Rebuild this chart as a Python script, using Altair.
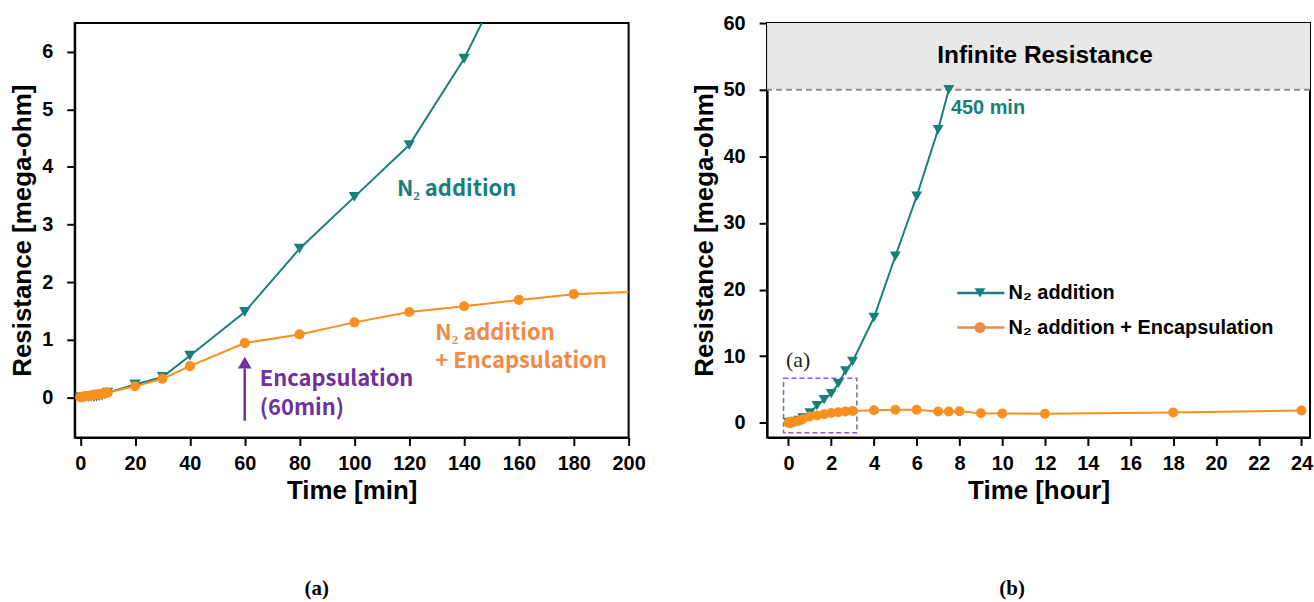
import altair as alt
import pandas as pd

# ---- measured resistance (mega-ohm) vs elapsed time (minutes) ----
minutes_n2 = [0, 1, 2, 3, 4, 5, 6, 7, 8, 9, 10, 20, 30, 40, 60, 80, 100, 120,
              140, 160, 180, 240, 300, 360, 420, 450]
res_n2 = [0.00, -0.01, 0.00, 0.00, 0.01, 0.00, 0.01, 0.02, 0.03, 0.05, 0.08,
          0.22, 0.35, 0.72, 1.48, 2.58, 3.48, 4.38, 5.88, 7.80, 9.20, 15.8,
          25.0, 34.0, 44.0, 50.0]

minutes_enc = [0, 1, 2, 3, 4, 5, 6, 7, 8, 9, 10, 20, 30, 40, 60, 80, 100, 120,
               140, 160, 180, 240, 300, 360, 420, 450, 480, 540, 600, 720,
               1080, 1440]
res_enc = [0.00, 0.01, 0.02, 0.02, 0.03, 0.04, 0.05, 0.05, 0.06, 0.07, 0.08,
           0.19, 0.32, 0.54, 0.94, 1.09, 1.30, 1.48, 1.58, 1.69, 1.79, 1.90,
           1.95, 1.95, 1.70, 1.70, 1.75, 1.45, 1.40, 1.35, 1.55, 1.85]

series = ["N₂ addition", "N₂ addition + Encapsulation"]
open_circuit_limit = 50      # resistance beyond which the meter reads "infinite"
meter_max = 60
encapsulation_time = 60      # minutes

TEAL = "#17807b"
ORANGE = "#f7901e"
ORANGE_TEXT = "#f08a48"
PURPLE = "#7030a0"
BOX = "#8a5cc8"

LABEL_FONT = "Liberation Sans"
NOTE_FONT = "Noto Sans CJK KR"

n2 = pd.DataFrame({"minutes": minutes_n2, "res": res_n2, "series": series[0]})
enc = pd.DataFrame({"minutes": minutes_enc, "res": res_enc, "series": series[1]})

LW, RW, H = 556, 545, 416

# ======================= (a) first 200 minutes =======================
XA = alt.Scale(domain=[-2, 200], nice=False, zero=False)
YA = alt.Scale(domain=[-0.7, 6.5], nice=False, zero=False)
xa = alt.X("minutes:Q", scale=XA,
           axis=alt.Axis(values=list(range(0, 201, 20)), format="d", title="Time [min]"))
ya = alt.Y("res:Q", scale=YA,
           axis=alt.Axis(values=list(range(0, 7)), format="d",
                         title="Resistance [mega-ohm]"))

a_n2_line = alt.Chart(n2).mark_line(color=TEAL, strokeWidth=2, clip=True).encode(x=xa, y=ya)
a_n2_pts = alt.Chart(n2).mark_point(shape="triangle-down", filled=True, opacity=1,
                                    size=130, color=TEAL, clip=True).encode(x=xa, y=ya)
a_enc_line = alt.Chart(enc).mark_line(color=ORANGE, strokeWidth=2, clip=True).encode(x=xa, y=ya)
a_enc_pts = alt.Chart(enc).mark_circle(size=105, color=ORANGE, opacity=1,
                                       clip=True).encode(x=xa, y=ya)

# arrow marking the moment of encapsulation
arrow = pd.DataFrame({"minutes": [encapsulation_time], "y0": [-0.41], "y1": [0.50],
                      "head": [0.60]})
a_shaft = alt.Chart(arrow).mark_rule(color=PURPLE, strokeWidth=2.5).encode(
    x=alt.X("minutes:Q", scale=XA), y=alt.Y("y0:Q", scale=YA), y2="y1:Q")
a_head = alt.Chart(arrow).mark_point(shape="triangle-up", filled=True, opacity=1,
                                     size=190, color=PURPLE).encode(
    x=alt.X("minutes:Q", scale=XA), y=alt.Y("head:Q", scale=YA))

notes_a = pd.DataFrame({
    "minutes": [115.5, 129.5, 129.5, 65.5, 65.5],
    "res": [3.62, 1.11, 0.62, 0.31, -0.18],
    "text": ["N₂ addition", "N₂ addition", "+ Encapsulation", "Encapsulation", "(60min)"],
    "who": ["teal", "orange", "orange", "purple", "purple"],
})
a_notes = alt.Chart(notes_a).mark_text(align="left", baseline="middle", font=NOTE_FONT,
                                       fontSize=22, fontWeight="bold").encode(
    x=alt.X("minutes:Q", scale=XA), y=alt.Y("res:Q", scale=YA), text="text:N",
    color=alt.Color("who:N", scale=alt.Scale(domain=["teal", "orange", "purple"],
                                             range=[TEAL, ORANGE_TEXT, PURPLE]),
                    legend=None))

cap_a = alt.Chart(pd.DataFrame({"t": ["(a)"]})).mark_text(
    font="Liberation Serif", fontSize=21, fontWeight="bold", color="black").encode(
    x=alt.value(243), y=alt.value(568), text="t:N")

panel_a = alt.layer(a_n2_line, a_n2_pts, a_enc_line, a_enc_pts, a_shaft, a_head,
                    a_notes, cap_a).properties(width=LW, height=H)

# ======================= (b) full 24-hour run =======================
XB = alt.Scale(domain=[-1, 24.4], nice=False, zero=False)
YB = alt.Scale(domain=[-2.2, meter_max], nice=False, zero=False)
xb = alt.X("hours:Q", scale=XB,
           axis=alt.Axis(values=list(range(0, 25, 2)), format="d", title="Time [hour]"))
yb = alt.Y("res:Q", scale=YB,
           axis=alt.Axis(values=list(range(0, 61, 10)), format="d",
                         title="Resistance [mega-ohm]"))

to_hours = alt.datum.minutes / 60

band = pd.DataFrame({"lo": [open_circuit_limit], "hi": [meter_max]})
b_band = alt.Chart(band).mark_rect(color="#e8e8e8").encode(
    x=alt.value(0), x2=alt.value(RW), y=alt.Y("lo:Q", scale=YB), y2="hi:Q")
b_limit = alt.Chart(band).mark_rule(color="#8c8c8c", strokeWidth=2,
                                    strokeDash=[6, 4]).encode(y=alt.Y("lo:Q", scale=YB))

b_n2_line = alt.Chart(n2).transform_calculate(hours=to_hours).mark_line(
    color=TEAL, strokeWidth=2, clip=True).encode(x=xb, y=yb)
b_n2_pts = alt.Chart(n2).transform_calculate(hours=to_hours).mark_point(
    shape="triangle-down", filled=True, opacity=1, size=120, color=TEAL,
    clip=True).encode(x=xb, y=yb)
b_enc_line = alt.Chart(enc).transform_calculate(hours=to_hours).mark_line(
    color=ORANGE, strokeWidth=2, clip=True).encode(x=xb, y=yb)
b_enc_pts = alt.Chart(enc).transform_calculate(hours=to_hours).mark_circle(
    size=100, color=ORANGE, opacity=1, clip=True).encode(x=xb, y=yb)

# dashed box showing the window enlarged in panel (a)
zoom_box = pd.DataFrame({"h0": [-0.23], "h1": [3.2], "r0": [-1.5], "r1": [6.7]})
b_box = alt.Chart(zoom_box).mark_rect(fillOpacity=0, stroke=BOX, strokeWidth=1.5,
                                      strokeDash=[5, 3]).encode(
    x=alt.X("h0:Q", scale=XB), x2="h1:Q", y=alt.Y("r0:Q", scale=YB), y2="r1:Q")

b_texts = alt.layer(
    alt.Chart(pd.DataFrame({"h": [12.0], "r": [55.0], "t": ["Infinite Resistance"]}))
    .mark_text(font=LABEL_FONT, fontSize=24.5, fontWeight="bold", color="black",
               baseline="middle")
    .encode(x=alt.X("h:Q", scale=XB), y=alt.Y("r:Q", scale=YB), text="t:N"),
    alt.Chart(pd.DataFrame({"h": [7.6], "r": [47.2], "t": ["450 min"]}))
    .mark_text(font=LABEL_FONT, fontSize=20, fontWeight="bold", color=TEAL,
               align="left", baseline="middle")
    .encode(x=alt.X("h:Q", scale=XB), y=alt.Y("r:Q", scale=YB), text="t:N"),
    alt.Chart(pd.DataFrame({"h": [0.45], "r": [9.4], "t": ["(a)"]}))
    .mark_text(font="Liberation Serif", fontSize=22, color="#222222", baseline="middle")
    .encode(x=alt.X("h:Q", scale=XB), y=alt.Y("r:Q", scale=YB), text="t:N"),
)

# legend drawn inside the plot
key = pd.DataFrame({"series": series, "r": [19.5, 14.3],
                    "k0": [7.9, 7.9], "k1": [10.1, 10.1], "km": [8.96, 8.96],
                    "kt": [10.3, 10.3]})
key_color = alt.Color("series:N", scale=alt.Scale(domain=series, range=[TEAL, ORANGE]),
                      legend=None)
b_key_line = alt.Chart(key).mark_rule(strokeWidth=2.5).encode(
    x=alt.X("k0:Q", scale=XB), x2="k1:Q", y=alt.Y("r:Q", scale=YB),
    color=key_color)
b_key_pts = alt.Chart(key).mark_point(filled=True, opacity=1, size=120).encode(
    x=alt.X("km:Q", scale=XB), y=alt.Y("r:Q", scale=YB), color=key_color,
    shape=alt.Shape("series:N", scale=alt.Scale(domain=series,
                                                range=["triangle-down", "circle"]),
                    legend=None))
b_key_txt = alt.Chart(key).mark_text(align="left", baseline="middle", font=LABEL_FONT,
                                     fontSize=20, fontWeight="bold", color="black").encode(
    x=alt.X("kt:Q", scale=XB), y=alt.Y("r:Q", scale=YB), text="series:N")

cap_b = alt.Chart(pd.DataFrame({"t": ["(b)"]})).mark_text(
    font="Liberation Serif", fontSize=21, fontWeight="bold", color="black").encode(
    x=alt.value(246), y=alt.value(568), text="t:N")

panel_b = alt.layer(b_band, b_limit, b_box, b_n2_line, b_n2_pts, b_enc_line, b_enc_pts,
                    b_texts, b_key_line, b_key_pts, b_key_txt, cap_b).properties(
    width=RW, height=H)

chart = alt.hconcat(panel_a, panel_b, spacing=139, bounds="flush").properties(
    padding={"left": 8, "top": 11, "right": 0, "bottom": 0}
).configure_view(
    stroke="black", strokeWidth=2
).configure_axis(
    grid=False, labelFlush=False,
    domainColor="black", domainWidth=2,
    tickColor="black", tickWidth=2, tickSize=8,
    labelFont=LABEL_FONT, labelFontSize=20, labelFontWeight="bold", labelColor="black",
    titleFont=LABEL_FONT, titleFontSize=26, titleFontWeight="bold", titleColor="black",
).configure_axisX(
    labelPadding=8, titlePadding=4
).configure_axisY(
    labelPadding=14, titlePadding=6
)

chart.save("out.html", embed_options={"renderer": "svg", "actions": False})
